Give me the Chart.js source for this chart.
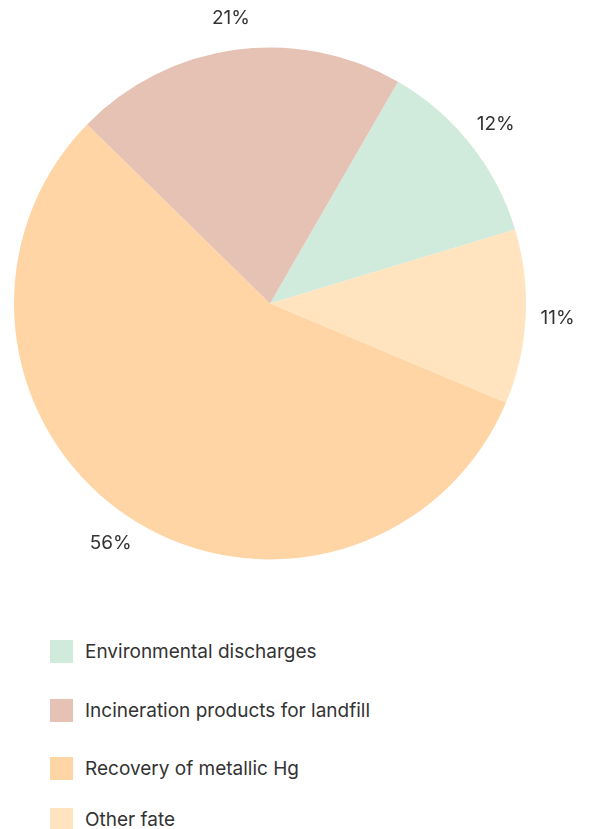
<!DOCTYPE html>
<html>
<head>
<meta charset="utf-8">
<script src="https://cdn.jsdelivr.net/npm/chart.js@4/dist/chart.umd.min.js"></script>
<style>
  body { margin: 0; background: #fff; font-family: Inter, "Noto Sans", sans-serif; color: #333; }
  #wrap { position: relative; width: 590px; height: 829px; overflow: hidden; }
  #chartBox { position: absolute; left: 0; top: 0; width: 590px; height: 600px; }
  #legend { position: absolute; left: 50px; top: 640px; margin: 0; padding: 0; list-style: none; }
  #legend li { display: flex; align-items: center; height: 23px; margin-bottom: 35.5px; font-size: 19px; }
  #legend li:nth-child(4) { margin-top: -8px; }
  #legend .box { width: 23px; height: 23px; margin-right: 12px; flex: none; }
</style>
</head>
<body>
<div id="wrap">
  <div id="chartBox"><canvas id="fateChart"></canvas></div>
  <ul id="legend"></ul>
</div>
<script>
// slices go clockwise from the top-right
let categories = ['Environmental discharges', 'Other fate', 'Recovery of metallic Hg', 'Incineration products for landfill'];
let shares = [12, 11, 56, 21];
let colors = ['#d0eadc', '#ffe4bf', '#ffd5a6', '#e6c2b5'];
// order of the legend rows (index into categories)
let legendOrder = [0, 3, 2, 1];

// percent text outside each slice
const outsideLabels = {
    id: 'outsideLabels',
    afterDatasetsDraw(chart) {
        const ctx = chart.ctx;
        const meta = chart.getDatasetMeta(0);
        ctx.save();
        ctx.font = '19px Inter, "Noto Sans", sans-serif';
        ctx.fillStyle = '#333';
        ctx.textAlign = 'center';
        ctx.textBaseline = 'middle';
        meta.data.forEach((arc, i) => {
            const { startAngle, endAngle, outerRadius, x, y } = arc.getProps(['startAngle', 'endAngle', 'outerRadius', 'x', 'y'], true);
            const mid = (startAngle + endAngle) / 2;
            const dist = outerRadius + 32;
            ctx.fillText(shares[i] + '%', x + Math.cos(mid) * dist, y + Math.sin(mid) * dist);
        });
        ctx.restore();
    }
};

let ctxFate = document.getElementById('fateChart').getContext('2d');
let fateChart = new Chart(ctxFate, {
    type: 'pie',
    data: {
        labels: categories,
        datasets: [{
            data: shares,
            backgroundColor: colors,
            borderWidth: 0
        }]
    },
    options: {
        responsive: true,
        maintainAspectRatio: false,
        animation: false,
        rotation: 30,
        layout: {
            padding: { left: 14, right: 64, top: 47.5, bottom: 40.5 }
        },
        plugins: {
            legend: { display: false },
            tooltip: { enabled: false }
        }
    },
    plugins: [outsideLabels]
});

// html legend
let legend = document.getElementById('legend');
legendOrder.forEach(i => {
    let li = document.createElement('li');
    li.innerHTML = `<span class="box" style="background:${colors[i]}"></span><span>${categories[i]}</span>`;
    legend.appendChild(li);
});
</script>
</body>
</html>
